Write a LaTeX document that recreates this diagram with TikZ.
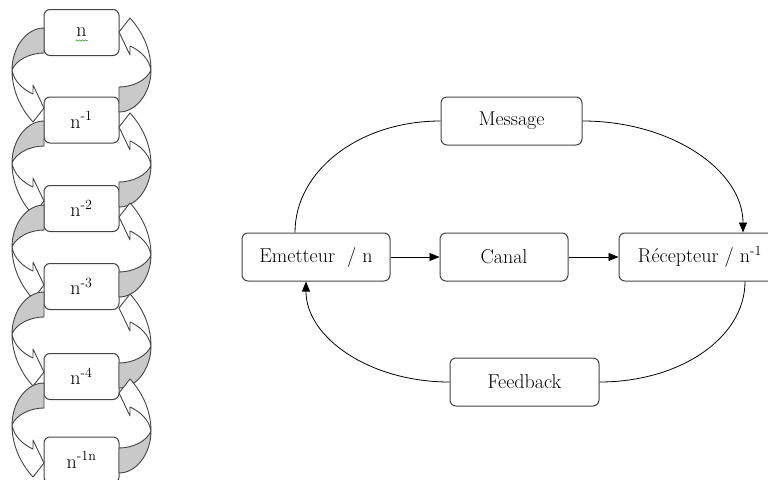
\documentclass[tikz,border=0pt]{standalone}
\usetikzlibrary{arrows.meta,decorations.pathmorphing,calc}
\definecolor{edge}{HTML}{444444}
\definecolor{band}{HTML}{C9C9C9}
\definecolor{spell}{HTML}{3C9A3C}
\begin{document}
\begin{tikzpicture}[x=1pt,y=-1pt,
  box/.style={draw=edge, line width=1pt, rounded corners=6pt, fill=white,
    inner sep=0pt, font=\fontsize{20}{24}\selectfont},
  lbox/.style={box, minimum width=75pt, minimum height=46pt},
  rbox/.style={box, minimum height=48pt},
  link/.style={line width=0.8pt, -{Triangle[length=10pt,width=8pt]}},
  plainlink/.style={line width=0.8pt},
  bandback/.style={draw=edge, line width=0.9pt, fill=band, line join=round},
  bandfront/.style={draw=edge, line width=0.9pt, fill=white, line join=round},
  curvarrow/.pic={
    \path[bandback] (0,0) .. controls (-18,0) and (-32,20) .. (-32,42)
      .. controls (-28,32) and (-14,25) .. (0,25) -- cycle;
    \path[bandfront] (-32,42) .. controls (-32,64) and (-22,82) .. (-11,94)
      -- (0,80) -- (-11,57) -- (-11,66)
      .. controls (-20,62) and (-30,54) .. (-32,42) -- cycle;
  }
]
\useasboundingbox (0,0) rectangle (768,479);

% left column
\node[lbox] (n0) at (81.5,32.5) {n};
\node[lbox] (n1) at (81.5,120) {n\textsuperscript{-1}};
\node[lbox] (n2) at (81.5,208.5) {n\textsuperscript{-2}};
\node[lbox] (n3) at (81.5,286.5) {n\textsuperscript{-3}};
\node[lbox] (n4) at (81.5,376.5) {n\textsuperscript{-4}};
\node[lbox] (n5) at (81.5,460) {n\textsuperscript{-1n}};

\draw[spell, line width=0.6pt, decorate,
  decoration={snake, amplitude=0.7pt, segment length=3pt}]
  ($(n0.center)+(-6,8)$) -- ($(n0.center)+(6,8)$);

% curved arrows, left side (down) and right side (up)
\foreach \y in {28,121,205,292,383} {\pic at (44,\y) {curvarrow};}
\foreach \y in {112,207,297,388,473} {\pic[rotate=180] at (119,\y) {curvarrow};}

% right diagram
\node[rbox, minimum width=148pt] (em) at (316,257) {Emetteur\ \ / n};
\node[rbox, minimum width=128pt] (ca) at (504,257) {Canal};
\node[rbox, minimum width=162pt] (re) at (700,257) {R\'ecepteur / n\textsuperscript{-1}};
\node[rbox, minimum width=141pt] (me) at (511.5,121) {Message};
\node[rbox, minimum width=149pt] (fb) at (524.5,382) {Feedback};

\draw[link] (em.east) -- (ca.west);
\draw[link] (ca.east) -- (re.west);
\draw[plainlink] ([xshift=-21pt]em.north) .. controls +(0,-62) and +(-81,0) .. (me.west);
\draw[link] (me.east) .. controls +(89,0) and +(0,-62) .. ([xshift=43pt]re.north);
\draw[plainlink] ([xshift=45pt]re.south) .. controls +(0,56) and +(81,0) .. (fb.east);
\draw[link] (fb.west) .. controls +(-80,0) and +(0,56) .. ([xshift=-10pt]em.south);
\end{tikzpicture}
\end{document}
